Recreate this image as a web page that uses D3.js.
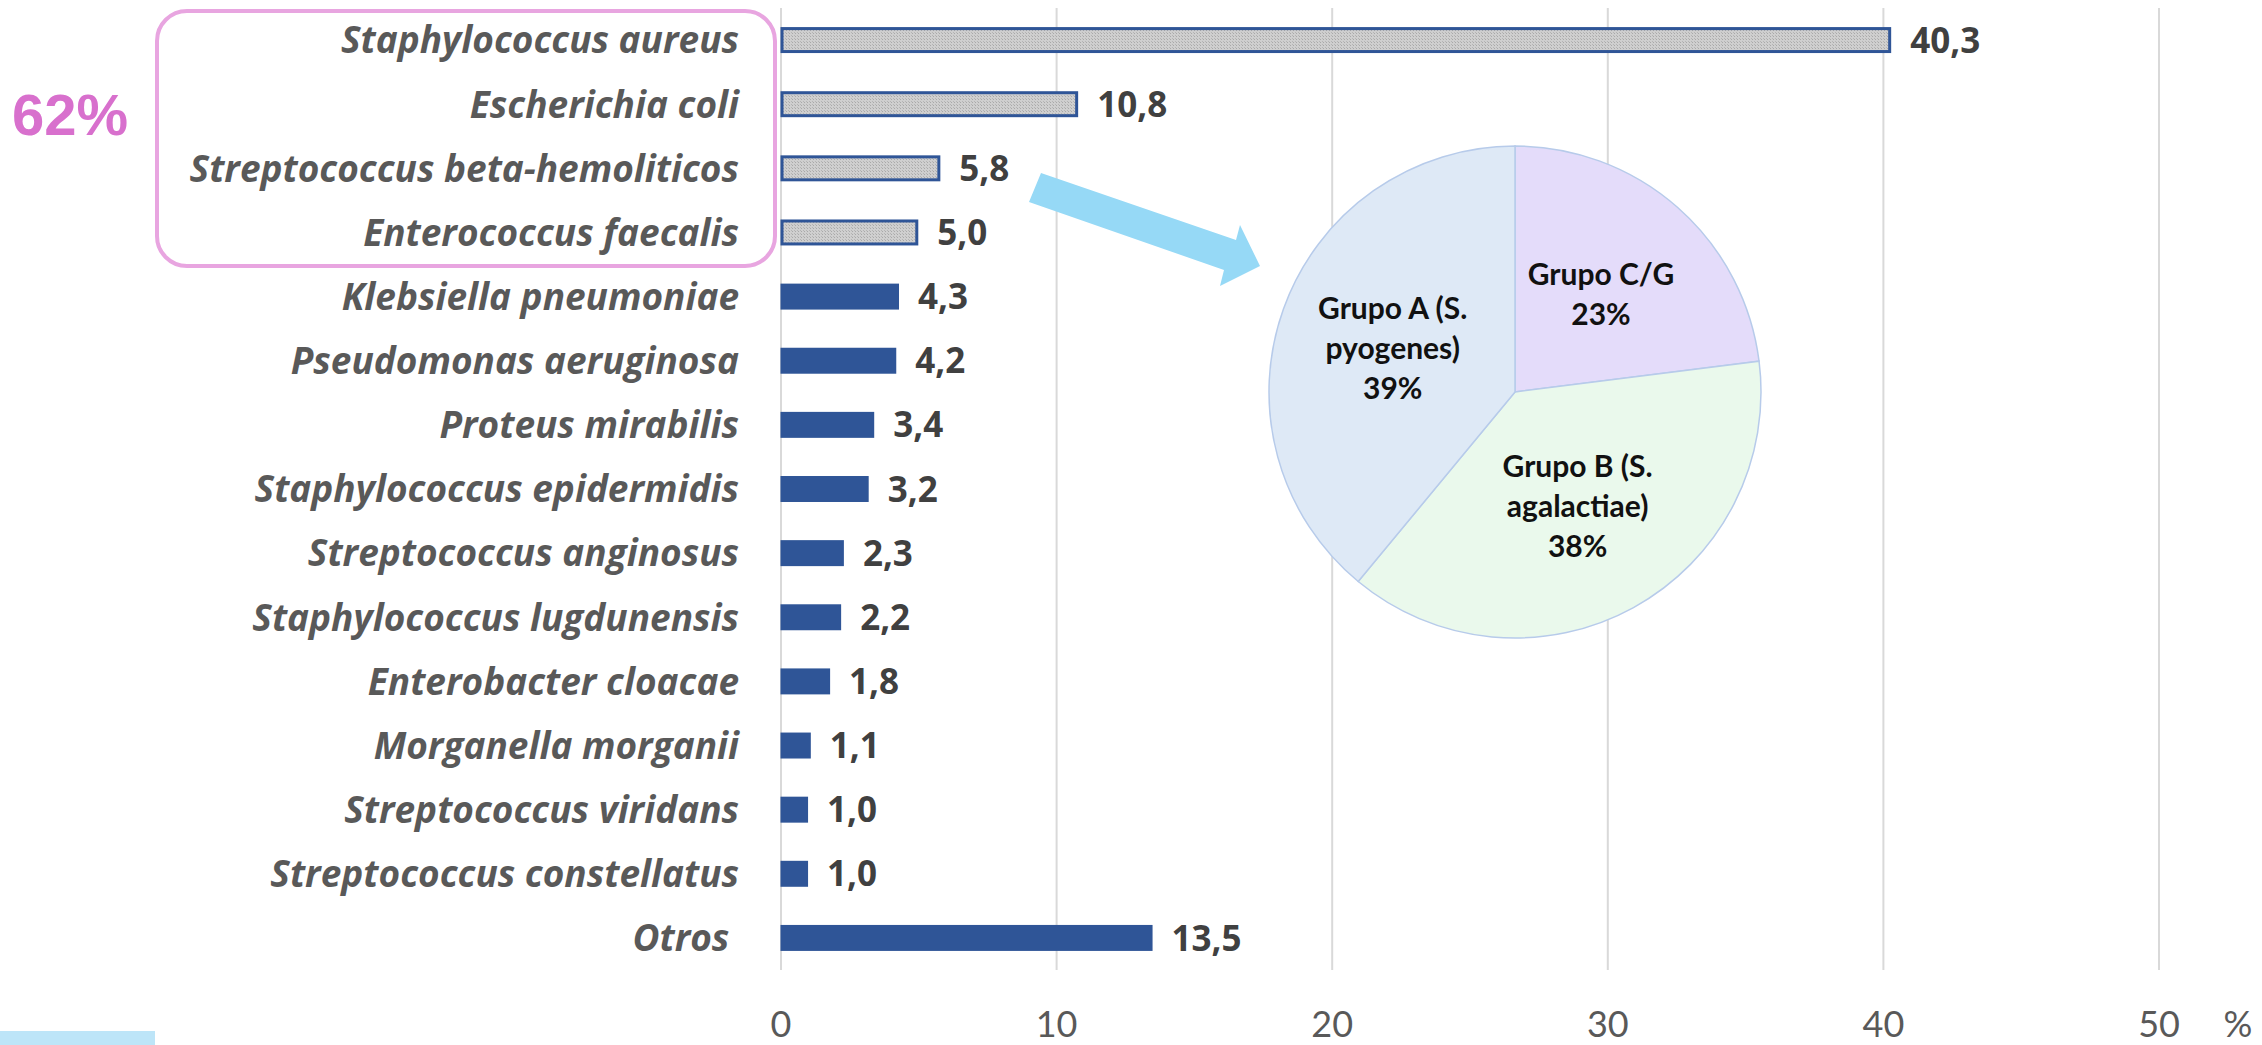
<!DOCTYPE html>
<html>
<head>
<meta charset="utf-8">
<script src="https://cdn.jsdelivr.net/npm/d3@7"></script>
<style>
  html, body { margin: 0; padding: 0; background: #fff; }
  svg { display: block; }
  .cat { font-family: "Open Sans", Lato, sans-serif; font-weight: 700; font-style: italic; font-size: 37px; fill: #595959; white-space: pre; }
  .val { font-family: "Open Sans", Lato, sans-serif; font-weight: 700; font-size: 35px; fill: #404040; }
  .tick text { font-family: Lato, "Open Sans", sans-serif; font-size: 36px; fill: #595959; }
  .pielab { font-family: Lato, "Open Sans", sans-serif; font-weight: 700; font-size: 30px; fill: #111; }
</style>
</head>
<body>
<svg id="chart"></svg>
<script>

// data

const species = [
  "Staphylococcus aureus",
  "Escherichia coli",
  "Streptococcus beta-hemoliticos",
  "Enterococcus faecalis",
  "Klebsiella pneumoniae",
  "Pseudomonas aeruginosa",
  "Proteus mirabilis",
  "Staphylococcus epidermidis",
  "Streptococcus anginosus",
  "Staphylococcus lugdunensis",
  "Enterobacter cloacae",
  "Morganella morganii",
  "Streptococcus viridans",
  "Streptococcus constellatus",
  "Otros "
];
const pct = [40.3, 10.8, 5.8, 5.0, 4.3, 4.2, 3.4, 3.2, 2.3, 2.2, 1.8, 1.1, 1.0, 1.0, 13.5];
const highlighted = 4; // first four rows drawn grey, boxed

const xTicks = [0, 10, 20, 30, 40, 50];

const groups = [["Grupo C/G", "23%"], ["Grupo B (S.", "agalactiae)", "38%"], ["Grupo A (S.", "pyogenes)", "39%"]];
const groupPct = [23, 38, 39];
const groupColors = ["#e4dcfa", "#eaf9ec", "#dee9f6"];

const boxLabel = "62%";

// graphics

const width = 2262, height = 1045;
const svg = d3.select("#chart").attr("width", width).attr("height", height);

const defs = svg.append("defs");
const pat = defs.append("pattern")
  .attr("id", "dots")
  .attr("width", 3).attr("height", 3)
  .attr("patternUnits", "userSpaceOnUse");
pat.append("rect").attr("width", 3).attr("height", 3).attr("fill", "#cfcfcf");
pat.append("rect").attr("width", 1).attr("height", 1).attr("fill", "#a9a9a9");
pat.append("rect").attr("x", 2).attr("y", 2).attr("width", 1).attr("height", 1).attr("fill", "#b5b5b5");

const plotTop = 8, plotBottom = 970;

let x = d3.scaleLinear()
  .domain([0, 50])
  .range([780.5, 2158.5]);

let y = d3.scaleBand()
  .domain(species)
  .range([plotTop, plotBottom])
  .paddingInner(0.595)
  .paddingOuter(0.2975);

// grid + axis
let axis = svg.append("g")
  .attr("transform", `translate(0, ${plotBottom})`)
  .call(d3.axisBottom(x)
    .tickValues(xTicks)
    .tickSize(-(plotBottom - plotTop))
    .tickPadding(41)
    .tickFormat(d3.format("d")))
  ;
axis.select(".domain").remove();
axis.selectAll(".tick line").attr("stroke", "#d9d9d9").attr("stroke-width", 2);

svg.append("text")
  .attr("x", 2238)
  .attr("y", plotBottom + 41 + 0.71 * 36)
  .attr("text-anchor", "middle")
  .style("font-family", "Lato, sans-serif")
  .style("font-size", "36px")
  .style("fill", "#595959")
  .text("%");

// bars
let rows = svg.selectAll("g.row")
  .data(species.map((s, i) => ({ name: s, v: pct[i], hi: i < highlighted })))
  .enter()
  .append("g")
  .classed("row", true)
  ;

rows.append("rect")
  .attr("x", d => x(0) + (d.hi ? 1.5 : 0))
  .attr("y", d => y(d.name) + (d.hi ? 1.5 : 0))
  .attr("width", d => x(d.v) - x(0) - (d.hi ? 3 : 0))
  .attr("height", d => y.bandwidth() - (d.hi ? 3 : 0))
  .attr("fill", d => d.hi ? "url(#dots)" : "#2f5597")
  .attr("stroke", d => d.hi ? "#2f5597" : "none")
  .attr("stroke-width", 3)
  ;

rows.append("text")
  .classed("cat", true)
  .attr("x", 739)
  .attr("y", d => y(d.name) + y.bandwidth() / 2)
  .attr("dy", "0.36em")
  .attr("text-anchor", "end")
  .text(d => d.name)
  ;

rows.append("text")
  .classed("val", true)
  .attr("x", d => x(d.v) + 19)
  .attr("y", d => y(d.name) + y.bandwidth() / 2)
  .attr("dy", "0.36em")
  .text(d => d3.format(".1f")(d.v).replace(".", ","))
  ;

// pink box round the top four
svg.append("rect")
  .attr("x", 157).attr("y", 11)
  .attr("width", 618).attr("height", 255)
  .attr("rx", 30).attr("ry", 30)
  .attr("fill", "none")
  .attr("stroke", "#e8a5e0")
  .attr("stroke-width", 4)
  ;

svg.append("text")
  .attr("x", 70).attr("y", 135)
  .attr("text-anchor", "middle")
  .style("font-family", "'Liberation Sans', Arial, sans-serif")
  .style("font-weight", 700)
  .style("font-size", "58px")
  .style("fill", "#d870cd")
  .text(boxLabel);

// arrow
const arrowPts = [[1041, 173], [1236, 240], [1240, 225], [1260, 266], [1220, 286], [1224, 270], [1029, 202]];
svg.append("polygon")
  .attr("points", arrowPts.map(p => p.join(",")).join(" "))
  .attr("fill", "#96d9f6");

svg.append("rect")
  .attr("x", 0).attr("y", 1031)
  .attr("width", 155).attr("height", 14)
  .attr("fill", "#bde5f8");

// pie
const cx = 1515, cy = 392, r = 246;
let pie = d3.pie().sort(null)(groupPct);
let arc = d3.arc().innerRadius(0).outerRadius(r);
let labelArc = d3.arc().innerRadius(130).outerRadius(130);

let pieG = svg.append("g").attr("transform", `translate(${cx}, ${cy})`);
pieG.selectAll("path")
  .data(pie)
  .enter()
  .append("path")
  .attr("d", arc)
  .attr("fill", (d, i) => groupColors[i])
  .attr("stroke", "#b7cbea")
  .attr("stroke-width", 1.5)
  ;

pieG.selectAll("text")
  .data(pie)
  .enter()
  .append("text")
  .classed("pielab", true)
  .attr("text-anchor", "middle")
  .attr("transform", d => {
    let c = labelArc.centroid(d);
    return `translate(${c[0]}, ${c[1]})`;
  })
  .each((d, i, arr) => {
    let lines = groups[i];
    let t = d3.select(arr[i]);
    lines.forEach((l, j) => {
      t.append("tspan")
        .attr("x", 0)
        .attr("y", (j - (lines.length - 1) / 2) * 40)
        .attr("dy", "0.36em")
        .text(l);
    });
  })
  ;
</script>
</body>
</html>
